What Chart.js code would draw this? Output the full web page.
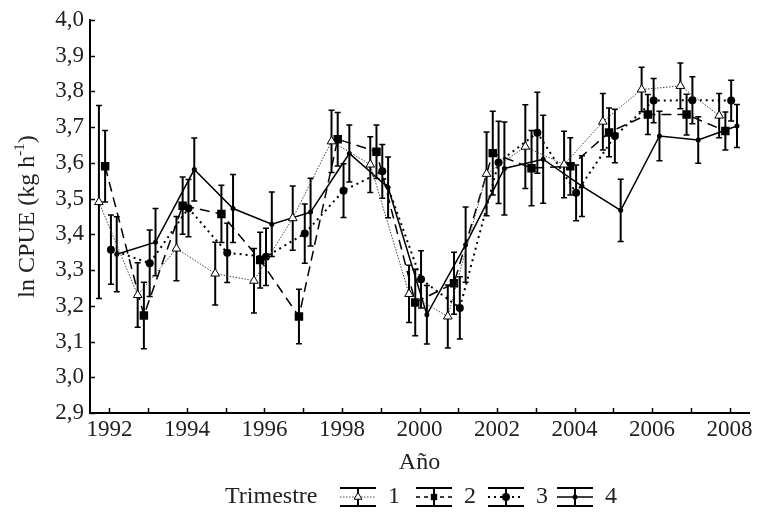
<!DOCTYPE html>
<html>
<head>
<meta charset="utf-8">
<script src="https://cdn.jsdelivr.net/npm/chart.js@4.4.1/dist/chart.umd.min.js"></script>
<style>
  body { margin: 0; background: #fff; }
  canvas { display: block; }
</style>
</head>
<body>
<canvas id="cpueChart" width="759" height="518"></canvas>
<script>
// years and the small shift used for each quarter inside the year
const years = [1992, 1993, 1994, 1995, 1996, 1997, 1998, 1999, 2000, 2001, 2002, 2003, 2004, 2005, 2006, 2007, 2008];
const quarterShift = [-0.27, -0.11, 0.04, 0.19];
const quarterNames = ['1', '2', '3', '4'];

// ln CPUE per quarter and half-width of the error bars
const q1 = [3.49, 3.23, 3.36, 3.29, 3.27, 3.445, 3.66, 3.595, 3.233, 3.17, 3.569, 3.645, 3.595, 3.715, 3.805, 3.815, 3.732];
const q1Err = [0.27, 0.09, 0.09, 0.088, 0.09, 0.09, 0.087, 0.078, 0.08, 0.088, 0.117, 0.117, 0.093, 0.079, 0.062, 0.064, 0.062];

const q2 = [3.59, 3.173, 3.48, 3.457, 3.328, 3.17, 3.666, 3.631, 3.209, 3.263, 3.627, 3.585, 3.59, 3.685, 3.735, 3.735, 3.689];
const q2Err = [0.10, 0.093, 0.08, 0.08, 0.078, 0.076, 0.075, 0.075, 0.093, 0.087, 0.117, 0.105, 0.08, 0.068, 0.056, 0.057, 0.053];

const q3 = [3.357, 3.319, 3.473, 3.348, 3.337, 3.402, 3.522, 3.576, 3.274, 3.194, 3.601, 3.684, 3.516, 3.675, 3.774, 3.775, 3.774];
const q3Err = [0.097, 0.093, 0.08, 0.083, 0.08, 0.083, 0.075, 0.075, 0.08, 0.087, 0.115, 0.113, 0.078, 0.075, 0.062, 0.066, 0.057];

const q4 = [3.344, 3.378, 3.581, 3.472, 3.428, 3.462, 3.626, 3.531, 3.175, 3.371, 3.584, 3.61, 3.535, 3.467, 3.675, 3.664, 3.703];
const q4Err = [0.105, 0.094, 0.088, 0.095, 0.09, 0.095, 0.08, 0.085, 0.082, 0.105, 0.13, 0.123, 0.085, 0.087, 0.069, 0.065, 0.06];

const yTicks = [2.9, 3.0, 3.1, 3.2, 3.3, 3.4, 3.5, 3.6, 3.7, 3.8, 3.9, 4.0];

const serif = "'Liberation Serif', 'DejaVu Serif', serif";

function series(values, shift) {
  return years.map((yr, i) => ({ x: yr + shift, y: values[i] }));
}

const datasets = [
  { label: quarterNames[0], data: series(q1, quarterShift[0]), err: q1Err,
    borderColor: '#444', borderWidth: 1, borderDash: [1.5, 1.5],
    pointStyle: 'triangle', pointRadius: 5, pointBackgroundColor: '#fff', pointBorderColor: '#000', pointBorderWidth: 1 },
  { label: quarterNames[1], data: series(q2, quarterShift[1]), err: q2Err,
    borderColor: '#000', borderWidth: 1.5, borderDash: [10, 6],
    pointStyle: 'rect', pointRadius: 6, pointBackgroundColor: '#000', pointBorderColor: '#000', pointBorderWidth: 0 },
  { label: quarterNames[2], data: series(q3, quarterShift[2]), err: q3Err,
    borderColor: '#000', borderWidth: 2, borderDash: [2, 4],
    pointStyle: 'circle', pointRadius: 4, pointBackgroundColor: '#000', pointBorderColor: '#000', pointBorderWidth: 0 },
  { label: quarterNames[3], data: series(q4, quarterShift[3]), err: q4Err,
    borderColor: '#000', borderWidth: 1.5, borderDash: [],
    pointStyle: 'circle', pointRadius: 2.5, pointBackgroundColor: '#000', pointBorderColor: '#000', pointBorderWidth: 0 }
];

// vertical error bars with caps, drawn under the lines
const errorBars = {
  id: 'errorBars',
  beforeDatasetsDraw(chart) {
    const ctx = chart.ctx;
    const xs = chart.scales.x, ys = chart.scales.y;
    ctx.save();
    ctx.strokeStyle = '#000';
    chart.data.datasets.forEach(ds => {
      ds.data.forEach((p, i) => {
        const px = xs.getPixelForValue(p.x);
        const top = ys.getPixelForValue(p.y + ds.err[i]);
        const bot = ys.getPixelForValue(p.y - ds.err[i]);
        ctx.lineWidth = 2;
        ctx.beginPath();
        ctx.moveTo(px, top);
        ctx.lineTo(px, bot);
        ctx.stroke();
        ctx.lineWidth = 1.5;
        ctx.beginPath();
        ctx.moveTo(px - 3, top);
        ctx.lineTo(px + 3, top);
        ctx.moveTo(px - 3, bot);
        ctx.lineTo(px + 3, bot);
        ctx.stroke();
      });
    });
    ctx.restore();
  }
};

// inward tick marks, y title with superscript, and the "Trimestre" legend
const decorations = {
  id: 'decorations',
  afterDraw(chart) {
    const ctx = chart.ctx;
    const xs = chart.scales.x, ys = chart.scales.y;
    const area = chart.chartArea;
    ctx.save();
    ctx.strokeStyle = '#000';
    ctx.lineWidth = 1.5;
    ctx.beginPath();
    yTicks.forEach(v => {
      const py = Math.round(ys.getPixelForValue(v)) + 0.5;
      ctx.moveTo(area.left, py);
      ctx.lineTo(area.left + 5, py);
    });
    years.forEach(v => {
      const px = Math.round(xs.getPixelForValue(v)) + 0.5;
      ctx.moveTo(px, area.bottom);
      ctx.lineTo(px, area.bottom - 5);
    });
    ctx.stroke();

    // y axis title
    ctx.fillStyle = '#222';
    ctx.textBaseline = 'middle';
    ctx.textAlign = 'left';
    const big = '24px ' + serif, small = '15px ' + serif;
    const parts = [['ln CPUE (kg h', big, 0], ['-1', small, -8], [')', big, 0]];
    let total = 0;
    parts.forEach(p => { ctx.font = p[1]; total += ctx.measureText(p[0]).width; });
    ctx.translate(28, (area.top + area.bottom) / 2);
    ctx.rotate(-Math.PI / 2);
    let cx = -total / 2;
    parts.forEach(p => {
      ctx.font = p[1];
      ctx.fillText(p[0], cx, p[2]);
      cx += ctx.measureText(p[0]).width;
    });
    ctx.setTransform(1, 0, 0, 1, 0, 0);

    // legend
    const ly = 497;
    ctx.font = '24px ' + serif;
    ctx.fillText('Trimestre', 225, ly);
    const glyphX = [340, 416, 488, 557];
    chart.data.datasets.forEach((ds, i) => {
      const gx = glyphX[i], gw = 36, gc = gx + gw / 2;
      ctx.strokeStyle = '#000';
      ctx.setLineDash([]);
      ctx.lineWidth = 2;
      ctx.beginPath();
      ctx.moveTo(gx, ly - 9); ctx.lineTo(gx + gw, ly - 9);
      ctx.moveTo(gx, ly + 9); ctx.lineTo(gx + gw, ly + 9);
      ctx.moveTo(gc, ly - 9); ctx.lineTo(gc, ly + 9);
      ctx.stroke();
      ctx.strokeStyle = ds.borderColor;
      ctx.lineWidth = ds.borderWidth;
      ctx.setLineDash(ds.borderDash.map(d => Math.min(d, 4)));
      ctx.beginPath();
      ctx.moveTo(gx, ly); ctx.lineTo(gx + gw, ly);
      ctx.stroke();
      ctx.setLineDash([]);
      ctx.fillStyle = ds.pointBackgroundColor;
      ctx.strokeStyle = ds.pointBorderColor;
      Chart.helpers.drawPoint(ctx, {
        pointStyle: ds.pointStyle, rotation: 0,
        radius: Math.min(ds.pointRadius, 4.5), borderWidth: ds.pointBorderWidth
      }, gc, ly);
      ctx.fillStyle = '#222';
      ctx.fillText(ds.label, gx + gw + 12, ly);
    });
    ctx.restore();
  }
};

new Chart(document.getElementById('cpueChart').getContext('2d'), {
  type: 'line',
  data: { datasets: datasets },
  options: {
    responsive: false,
    animation: false,
    layout: { padding: { top: 19, right: 10, bottom: 40, left: 0 } },
    plugins: { legend: { display: false }, tooltip: { enabled: false } },
    elements: { line: { tension: 0 } },
    scales: {
      x: {
        type: 'linear',
        min: 1991.5,
        max: 2008.5,
        afterBuildTicks: s => { s.ticks = years.map(v => ({ value: v })); },
        afterFit: s => { s.height = 65; },
        grid: { display: false, drawTicks: false },
        border: { display: true, color: '#000', width: 2 },
        ticks: {
          autoSkip: false, maxRotation: 0, padding: 3, color: '#222',
          font: { family: serif, size: 23 },
          callback: v => (v % 2 === 0 ? String(v) : '')
        },
        title: { display: true, text: 'Año', color: '#222', font: { family: serif, size: 24 }, padding: { top: 0, bottom: 1 } }
      },
      y: {
        min: 2.9,
        max: 4.0,
        afterBuildTicks: s => { s.ticks = yTicks.map(v => ({ value: v })); },
        afterFit: s => { s.width = 90; },
        grid: { display: false, drawTicks: false },
        border: { display: true, color: '#000', width: 2 },
        ticks: {
          padding: 6, color: '#222',
          font: { family: serif, size: 23 },
          callback: v => v.toFixed(1).replace('.', ',')
        }
      }
    }
  },
  plugins: [errorBars, decorations]
});
</script>
</body>
</html>
